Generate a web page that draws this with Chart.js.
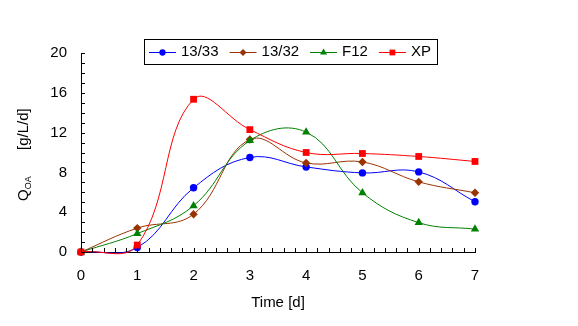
<!DOCTYPE html>
<html><head><meta charset="utf-8">
<script src="https://cdn.jsdelivr.net/npm/chart.js@4"></script>
<style>html,body{margin:0;padding:0;background:#fff;} #wrap{width:578px;height:326px;position:relative}</style>
</head><body><div id="wrap"><canvas id="c" width="578" height="326"></canvas></div>
<script>
const days = [0, 1, 2, 3, 4, 5, 6, 7];
const s1333 = [0, 0.45, 6.45, 9.5, 8.55, 7.95, 8.05, 5.05];
const s1332 = [0, 2.4, 3.8, 11.3, 8.95, 9.05, 7.05, 5.95];
const sF12 = [0, 1.85, 4.65, 11.2, 12.05, 5.95, 2.95, 2.3];
const sXP = [0, 0.7, 15.35, 12.3, 10.0, 9.9, 9.6, 9.1];
const seriesNames = ['13/33', '13/32', 'F12', 'XP'];
const xTickLabels = ['0', '1', '2', '3', '4', '5', '6', '7'];
const yTickLabels = ['0', '4', '8', '12', '16', '20'];

const FONT = "'Liberation Sans', Arial, sans-serif";
const styles = [
  {color: '#0000FF', point: 'circle', r: 3.7},
  {color: '#993300', point: 'rectRot', r: 4.2},
  {color: '#008000', point: 'triangle', r: 4.8},
  {color: '#FF0000', point: 'rect', r: 4.8}
];
const seriesData = [s1333, s1332, sF12, sXP];

const datasets = seriesNames.map((name, i) => ({
  label: name,
  data: days.map((d, j) => ({x: d, y: seriesData[i][j]})),
  borderColor: styles[i].color,
  backgroundColor: styles[i].color,
  pointBackgroundColor: styles[i].color,
  pointBorderColor: styles[i].color,
  pointStyle: styles[i].point,
  pointRadius: styles[i].r,
  pointBorderWidth: 0,
  borderWidth: 1,
  tension: 0.4,
  clip: false,
  order: 4 - i
}));

const minorTicks = {
  id: 'minorTicks',
  afterDraw(chart) {
    const {ctx, chartArea, scales} = chart;
    ctx.save();
    ctx.strokeStyle = '#000';
    ctx.lineWidth = 1;
    ctx.beginPath();
    for (let v = 0; v <= 20 + 1e-9; v += 1) {
      const y = Math.round(scales.y.getPixelForValue(v)) + 0.5;
      ctx.moveTo(chartArea.left, y); ctx.lineTo(chartArea.left + 4, y);
    }
    for (let k = 0; k <= 35; k++) {
      const x = Math.round(scales.x.getPixelForValue(k * 0.2)) + 0.5;
      ctx.moveTo(x, chartArea.bottom); ctx.lineTo(x, chartArea.bottom - 4);
    }
    ctx.stroke();
    ctx.restore();
  }
};

const yTitle = {
  id: 'yTitle',
  afterDraw(chart) {
    const {ctx} = chart;
    ctx.save();
    ctx.fillStyle = '#000';
    ctx.translate(23, 201);
    ctx.rotate(-Math.PI / 2);
    ctx.textBaseline = 'alphabetic';
    ctx.textAlign = 'left';
    ctx.font = '15px ' + FONT;
    ctx.fillText('Q', 0, 5.4);
    const qw = ctx.measureText('Q').width;
    ctx.font = '9px ' + FONT;
    ctx.fillText('OA', qw, 7.8);
    ctx.font = '15px ' + FONT;
    ctx.fillText('[g/L/d]', 51, 5.4);
    ctx.restore();
  }
};

const legendBox = {
  id: 'legendBox',
  afterDraw(chart) {
    const {ctx} = chart;
    ctx.save();
    ctx.font = '15px ' + FONT;
    const lineW = 27, gapT = 5, gapI = 11, padL = 5, padR = 6;
    const widths = seriesNames.map(n => ctx.measureText(n).width);
    let total = padL + padR;
    widths.forEach((w, i) => { total += lineW + gapT + w + (i < widths.length - 1 ? gapI : 0); });
    const cx = 290, top = 39, h = 25;
    const left = Math.round(cx - total / 2);
    ctx.fillStyle = '#fff';
    ctx.fillRect(left, top, total, h);
    ctx.strokeStyle = '#000';
    ctx.lineWidth = 1;
    ctx.strokeRect(left + 0.5, top + 0.5, Math.round(total), h);
    let x = left + padL;
    const cy = top + 12.5;
    chart.data.datasets.forEach((ds, i) => {
      ctx.strokeStyle = ds.borderColor;
      ctx.beginPath();
      ctx.moveTo(x, Math.round(cy) + 0.5); ctx.lineTo(x + lineW, Math.round(cy) + 0.5);
      ctx.stroke();
      ctx.fillStyle = ds.borderColor;
      Chart.helpers.drawPoint(ctx, {pointStyle: ds.pointStyle, radius: ds.pointRadius * 0.85, borderWidth: 0, rotation: 0}, x + lineW / 2, Math.round(cy) + 0.5);
      ctx.fillStyle = '#000';
      ctx.textBaseline = 'middle';
      ctx.textAlign = 'left';
      ctx.fillText(ds.label, x + lineW + gapT, cy + 0.5);
      x += lineW + gapT + widths[i] + gapI;
    });
    ctx.restore();
  }
};

new Chart(document.getElementById('c'), {
  type: 'line',
  data: {datasets},
  options: {
    responsive: false,
    animation: false,
    devicePixelRatio: 1,
    layout: {padding: {top: 53, right: 103, left: 0, bottom: 0}},
    elements: {line: {capBezierPoints: false}},
    plugins: {legend: {display: false}, tooltip: {enabled: false}},
    scales: {
      x: {
        type: 'linear', min: 0, max: 7,
        grid: {display: false},
        border: {display: true, color: '#000', width: 1},
        ticks: {
          stepSize: 1, color: '#000', padding: 7, maxRotation: 0,
          font: {family: FONT, size: 15},
          callback: (v) => xTickLabels[v] !== undefined && Number.isInteger(v) ? xTickLabels[v] : ''
        },
        title: {display: true, text: 'Time [d]', color: '#000', font: {family: FONT, size: 15}, padding: {top: 0, bottom: 14}},
        afterFit: (s) => { s.height = 74; }
      },
      y: {
        min: 0, max: 20,
        grid: {display: false},
        border: {display: true, color: '#000', width: 1},
        ticks: {
          stepSize: 4, color: '#000', padding: 6,
          font: {family: FONT, size: 15},
          callback: (v) => yTickLabels[v / 4] !== undefined ? yTickLabels[v / 4] : ''
        },
        afterFit: (s) => { s.width = 81; }
      }
    }
  },
  plugins: [minorTicks, yTitle, legendBox]
});
</script>
</body></html>
